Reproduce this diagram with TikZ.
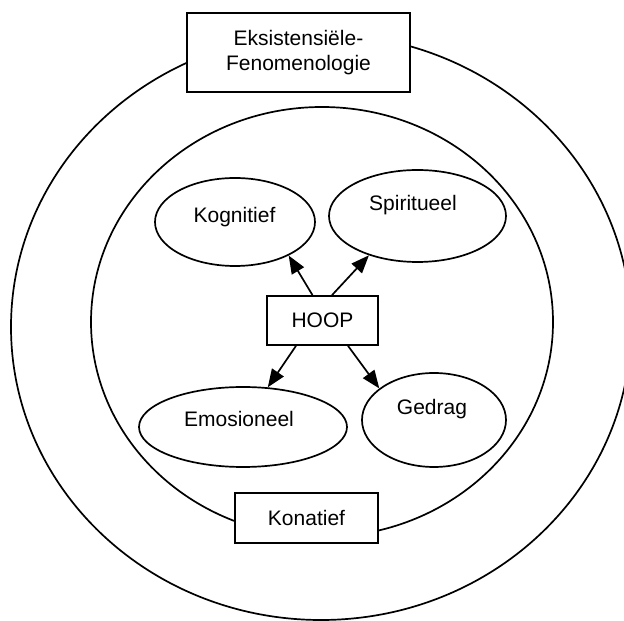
\documentclass[tikz,border=0pt]{standalone}
\usepackage{fontspec}
\setmainfont{Liberation Sans}
\usetikzlibrary{shapes.geometric,arrows.meta}
\begin{document}
\begin{tikzpicture}[x=1pt,y=1pt,
  box/.style={draw,line width=1.7pt,fill=white,rectangle,inner sep=0pt,font=\fontsize{21}{25}\selectfont,align=center},
  oval/.style={draw,line width=1.7pt,ellipse,inner sep=0pt},
  lbl/.style={anchor=base,inner sep=0pt,font=\fontsize{21}{25}\selectfont},
  arr/.style={line width=1.7pt,-{Triangle[length=18pt,width=14pt]}}]
\useasboundingbox (0,0) rectangle (624,621);
\clip (0,0) rectangle (624,621);
% rings
\node[oval,minimum width=620,minimum height=586] (outer) at (321,294) {};
\node[oval,minimum width=462,minimum height=430] (inner) at (322,299) {};
% boxes
\node[box,minimum width=223,minimum height=79] (eks) at (298.5,568.5) {Eksistensiële-\\Fenomenologie};
\node[box,minimum width=143,minimum height=50] (kon) at (306.5,103) {Konatief};
\node[box,minimum width=111,minimum height=49] (hoop) at (322.5,300.5) {HOOP};
% ovals
\node[oval,minimum width=160,minimum height=88] (kog) at (235,399) {};
\node[oval,minimum width=177,minimum height=92] (spi) at (417.5,405) {};
\node[oval,minimum width=208,minimum height=80] (emo) at (243,194) {};
\node[oval,minimum width=144,minimum height=94] (ged) at (434,201) {};
\node[lbl] (kogt) at (234.5,398) {Kognitief};
\node[lbl] (spit) at (413,410) {Spiritueel};
\node[lbl] (emot) at (239,194) {Emosioneel};
\node[lbl] (gedt) at (432,206) {Gedrag};
% arrows
\draw[arr] ([xshift=-10pt]hoop.north) -- (kog.-32);
\draw[arr] ([xshift=9.5pt]hoop.north) -- (spi.-141);
\draw[arr] ([xshift=-26.5pt]hoop.south) -- (emo.58);
\draw[arr] ([xshift=25.5pt]hoop.south) -- (ged.150);
\end{tikzpicture}
\end{document}
